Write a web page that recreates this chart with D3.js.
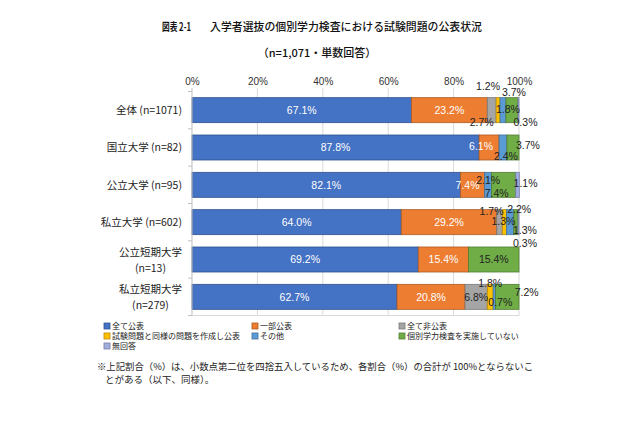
<!DOCTYPE html>
<html><head><meta charset="utf-8">
<script src="https://cdn.jsdelivr.net/npm/d3@7"></script>
<style>body{margin:0;background:#fff}svg{display:block}</style>
</head><body>
<script>
const categories = ["全体 (n=1071)", "国立大学 (n=82)", "公立大学 (n=95)", "私立大学 (n=602)", "公立短期大学\n(n=13)", "私立短期大学\n(n=279)"];
const seriesNames = ["全て公表", "一部公表", "全て非公表", "試験問題と同様の問題を作成し公表", "その他", "個別学力検査を実施していない", "無回答"];
const allPublic     = [67.1, 87.8, 82.1, 64.0, 69.2, 62.7];
const partPublic    = [23.2, 6.1, 7.4, 29.2, 15.4, 20.8];
const nonePublic    = [2.7, 0, 0, 1.7, 0, 6.8];
const similarPublic = [1.2, 0, 0, 1.3, 0, 1.8];
const otherVals     = [1.8, 2.4, 2.1, 2.2, 0, 0.7];
const notConducted  = [3.7, 3.7, 7.4, 1.3, 15.4, 7.2];
const noAnswer      = [0.3, 0, 1.1, 0.3, 0, 0];
const tickValues = [0, 20, 40, 60, 80, 100];
const titleLabel = "図表 2-1";
const titleMain = "入学者選抜の個別学力検査における試験問題の公表状況";
const subtitle = "（n=1,071・単数回答）";
const footnote = ["※上記割合（%）は、小数点第二位を四捨五入しているため、各割合（%）の合計が 100%とならないこ", "とがある（以下、同様）。"];

const seriesValues = [allPublic, partPublic, nonePublic, similarPublic, otherVals, notConducted, noAnswer];
const colors = ["#4472C4", "#ED7D31", "#A5A5A5", "#FFC000", "#5B9BD5", "#70AD47", "#A3AEE0"];
// label nudges (dx, dy) for small segments, keyed "row-series"
const nudge = {
  "0-2": [-10, 12], "0-3": [-10, -24], "0-4": [5, -1], "0-5": [2, -18], "0-6": [7, 12],
  "1-1": [-8, -1], "1-4": [3, 9], "1-5": [15, -2],
  "2-1": [-5, 0], "2-4": [0, -5], "2-5": [-7, 8], "2-6": [8, -2],
  "3-2": [-8, -11], "3-3": [-1, -1], "3-4": [9, -13], "3-5": [9, 8], "3-6": [6.5, 21],
  "5-3": [0, -14], "5-4": [6, 5], "5-5": [19.5, -5]
};

const W = 640, H = 426;
const svg = d3.select("body").append("svg").attr("width", W).attr("height", H);
const jp = "'Noto Sans CJK JP', sans-serif";

const x = d3.scaleLinear().domain([0, 100]).range([192, 519]);
const y = d3.scaleBand().domain(categories).range([91.5, 315.5]).paddingInner(0.33).paddingOuter(0.165);

// title
svg.append("text").attr("x", 162).attr("y", 31).attr("font-family", jp).attr("font-size", 11).attr("font-weight", "bold").attr("fill", "#111")
  .attr("textLength", 29).attr("lengthAdjust", "spacingAndGlyphs").text(titleLabel);
svg.append("text").attr("x", 210).attr("y", 31).attr("font-family", jp).attr("font-size", 10.9).attr("font-weight", 500).attr("fill", "#111")
  .attr("textLength", 272).attr("lengthAdjust", "spacingAndGlyphs").text(titleMain);
svg.append("text").attr("x", 317).attr("y", 57).attr("text-anchor", "middle").attr("font-family", jp).attr("font-size", 11).attr("font-weight", 500).attr("fill", "#111").text(subtitle);

// gridlines
svg.append("g").selectAll("line").data(tickValues.slice(1)).join("line")
  .attr("x1", d => x(d)).attr("x2", d => x(d)).attr("y1", 88).attr("y2", 315.5)
  .attr("stroke", "#d9d9d9").attr("stroke-width", 1);
svg.append("line").attr("x1", x(0)).attr("x2", x(100)).attr("y1", 315.5).attr("y2", 315.5).attr("stroke", "#d9d9d9");

// top axis labels
const xAxis = d3.axisTop(x).tickValues(tickValues).tickFormat(d => d + "%").tickSize(0).tickPadding(0);
const gx = svg.append("g").attr("transform", "translate(0,85)").call(xAxis);
gx.select(".domain").remove();
gx.selectAll("text").attr("font-family", "'Liberation Sans', sans-serif").attr("font-size", 10).attr("fill", "#333");

// stacked data
const rows = categories.map((c, i) => {
  let acc = 0;
  return seriesValues.map((s, k) => { const v = s[i]; const seg = {row: i, k, cat: c, v, x0: acc, x1: acc + v}; acc += v; return seg; });
});
const segs = rows.flat().filter(d => d.v > 0);

svg.append("g").selectAll("rect").data(segs).join("rect")
  .attr("x", d => x(d.x0)).attr("width", d => x(d.x1) - x(d.x0))
  .attr("y", d => y(d.cat)).attr("height", y.bandwidth())
  .attr("fill", d => colors[d.k])
  .attr("stroke", d => d3.color(colors[d.k]).darker(0.9)).attr("stroke-width", 0.8);

// y axis line + ticks
svg.append("line").attr("x1", x(0)).attr("x2", x(0)).attr("y1", 88).attr("y2", 315.5).attr("stroke", "#bfbfbf");
const bounds = d3.range(7).map(i => 91.5 + i * y.step());
svg.append("g").selectAll("line").data(bounds).join("line")
  .attr("x1", x(0) - 4).attr("x2", x(0)).attr("y1", d => d).attr("y2", d => d).attr("stroke", "#bfbfbf");

// data labels
svg.append("g").selectAll("text").data(segs).join("text")
  .attr("x", d => (x(d.x0) + x(d.x1)) / 2 + (nudge[d.row + "-" + d.k] || [0, 0])[0])
  .attr("y", d => y(d.cat) + y.bandwidth() / 2 + (nudge[d.row + "-" + d.k] || [0, 0])[1])
  .attr("dy", "0.35em").attr("text-anchor", "middle")
  .attr("font-family", "'Liberation Sans', sans-serif").attr("font-size", 10.5)
  .attr("fill", d => d.k < 2 ? "#fff" : "#222")
  .text(d => d.v.toFixed(1) + "%");

// category labels
const cl = svg.append("g").attr("font-family", jp).attr("font-size", 10.5).attr("fill", "#222");
categories.forEach(c => {
  const lines = c.split("\n");
  const cy = y(c) + y.bandwidth() / 2;
  if (lines.length === 1) {
    cl.append("text").attr("x", 182).attr("y", cy).attr("dy", "0.35em").attr("text-anchor", "end").text(lines[0]);
  } else {
    const first = cl.append("text").attr("x", 182).attr("y", cy - 7.5).attr("dy", "0.35em").attr("text-anchor", "end").text(lines[0]);
    const w = first.node().getComputedTextLength();
    cl.append("text").attr("x", 182 - w / 2).attr("y", cy + 8.5).attr("dy", "0.35em").attr("text-anchor", "middle").text(lines[1]);
  }
});

// legend
const legPos = [[104, 326], [252, 326], [399, 326], [104, 336], [252, 336], [399, 336], [104, 346]];
const lg = svg.append("g").selectAll("g").data(seriesNames).join("g")
  .attr("transform", (d, i) => `translate(${legPos[i][0]},${legPos[i][1]})`);
lg.append("rect").attr("x", 0).attr("y", -3).attr("width", 6).attr("height", 6)
  .attr("fill", (d, i) => colors[i]).attr("stroke", (d, i) => d3.color(colors[i]).darker(0.9)).attr("stroke-width", 0.8);
lg.append("text").attr("x", 8).attr("dy", "0.35em").attr("font-family", jp).attr("font-size", 8).attr("fill", "#222").text(d => d);

// footnote
svg.append("text").attr("x", 97).attr("y", 370).attr("font-family", jp).attr("font-size", 9.5).attr("fill", "#222")
  .attr("textLength", 436).attr("lengthAdjust", "spacingAndGlyphs").text(footnote[0]);
svg.append("text").attr("x", 105).attr("y", 383).attr("font-family", jp).attr("font-size", 9.5).attr("fill", "#222").text(footnote[1]);
</script>
</body></html>
